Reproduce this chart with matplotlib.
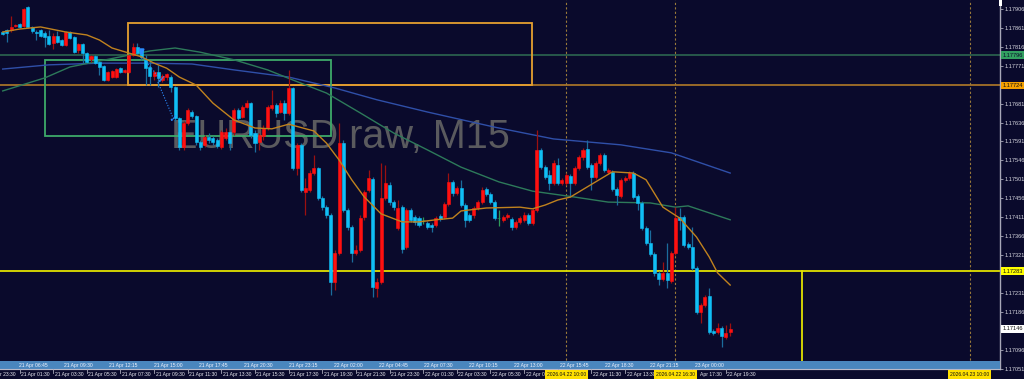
import matplotlib
matplotlib.use("Agg")
import matplotlib.pyplot as plt
from matplotlib.patches import Rectangle
from matplotlib.lines import Line2D
from matplotlib.transforms import blended_transform_factory, ScaledTranslation
import numpy as np

# ---------------- data (EURUSD raw, M15) ----------------
opens = [1.17851, 1.17856, 1.17856, 1.17865, 1.17870, 1.17865, 1.17910, 1.17863, 1.17851, 1.17856,
         1.17849, 1.17842, 1.17825, 1.17842, 1.17832, 1.17820, 1.17851, 1.17839, 1.17808, 1.17823,
         1.17801, 1.17787, 1.17794, 1.17780, 1.17770, 1.17737, 1.17744, 1.17744, 1.17766, 1.17756,
         1.17756, 1.17796, 1.17815, 1.17808, 1.17785, 1.17768, 1.17747, 1.17756, 1.17737, 1.17744,
         1.17744, 1.17720, 1.17647, 1.17578, 1.17635, 1.17661, 1.17652, 1.17590, 1.17583, 1.17602,
         1.17599, 1.17595, 1.17578, 1.17599, 1.17614, 1.17614, 1.17666, 1.17649, 1.17673, 1.17682,
         1.17611, 1.17590, 1.17604, 1.17623, 1.17671, 1.17678, 1.17661, 1.17682, 1.17659, 1.17718,
         1.17528, 1.17583, 1.17471, 1.17476, 1.17516, 1.17528, 1.17457, 1.17435, 1.17416, 1.17257,
         1.17326, 1.17587, 1.17428, 1.17388, 1.17326, 1.17333, 1.17412, 1.17476, 1.17502, 1.17243,
         1.17257, 1.17457, 1.17488, 1.17447, 1.17386, 1.17435, 1.17340, 1.17428, 1.17412, 1.17409,
         1.17405, 1.17397, 1.17393, 1.17393, 1.17414, 1.17412, 1.17443, 1.17495, 1.17469, 1.17481,
         1.17440, 1.17416, 1.17416, 1.17433, 1.17447, 1.17478, 1.17466, 1.17447, 1.17409, 1.17405,
         1.17412, 1.17407, 1.17388, 1.17400, 1.17405, 1.17416, 1.17397, 1.17428, 1.17571, 1.17530,
         1.17511, 1.17492, 1.17535, 1.17492, 1.17492, 1.17509, 1.17492, 1.17528, 1.17554, 1.17573,
         1.17535, 1.17507, 1.17540, 1.17559, 1.17519, 1.17519, 1.17478, 1.17462, 1.17500, 1.17504,
         1.17516, 1.17462, 1.17445, 1.17386, 1.17350, 1.17324, 1.17279, 1.17264, 1.17279, 1.17260,
         1.17326, 1.17412, 1.17412, 1.17348, 1.17340, 1.17291, 1.17186, 1.17203, 1.17224, 1.17141,
         1.17139, 1.17148, 1.17127, 1.17139]
highs = [1.17853, 1.17858, 1.17889, 1.17870, 1.17872, 1.17908, 1.17913, 1.17865, 1.17856, 1.17858,
         1.17853, 1.17856, 1.17849, 1.17853, 1.17834, 1.17853, 1.17853, 1.17842, 1.17825, 1.17825,
         1.17804, 1.17796, 1.17796, 1.17782, 1.17773, 1.17758, 1.17761, 1.17766, 1.17768, 1.17763,
         1.17796, 1.17825, 1.17825, 1.17811, 1.17796, 1.17785, 1.17761, 1.17773, 1.17751, 1.17754,
         1.17749, 1.17723, 1.17649, 1.17640, 1.17671, 1.17666, 1.17654, 1.17595, 1.17606, 1.17611,
         1.17604, 1.17599, 1.17618, 1.17623, 1.17618, 1.17671, 1.17671, 1.17678, 1.17690, 1.17685,
         1.17618, 1.17611, 1.17630, 1.17678, 1.17713, 1.17682, 1.17690, 1.17690, 1.17761, 1.17720,
         1.17587, 1.17587, 1.17504, 1.17523, 1.17559, 1.17530, 1.17462, 1.17440, 1.17421, 1.17333,
         1.17635, 1.17595, 1.17433, 1.17393, 1.17345, 1.17416, 1.17476, 1.17523, 1.17507, 1.17267,
         1.17540, 1.17535, 1.17495, 1.17452, 1.17452, 1.17440, 1.17433, 1.17433, 1.17416, 1.17414,
         1.17412, 1.17402, 1.17397, 1.17414, 1.17419, 1.17447, 1.17516, 1.17500, 1.17485, 1.17500,
         1.17445, 1.17421, 1.17438, 1.17452, 1.17483, 1.17483, 1.17471, 1.17452, 1.17428, 1.17416,
         1.17421, 1.17412, 1.17405, 1.17414, 1.17424, 1.17421, 1.17433, 1.17618, 1.17576, 1.17535,
         1.17523, 1.17547, 1.17552, 1.17504, 1.17516, 1.17514, 1.17533, 1.17559, 1.17576, 1.17595,
         1.17540, 1.17545, 1.17564, 1.17564, 1.17528, 1.17523, 1.17483, 1.17504, 1.17509, 1.17521,
         1.17521, 1.17466, 1.17450, 1.17390, 1.17381, 1.17329, 1.17283, 1.17305, 1.17350, 1.17331,
         1.17435, 1.17433, 1.17416, 1.17352, 1.17388, 1.17295, 1.17207, 1.17226, 1.17243, 1.17146,
         1.17160, 1.17153, 1.17155, 1.17160]
lows = [1.17844, 1.17827, 1.17851, 1.17863, 1.17861, 1.17863, 1.17861, 1.17849, 1.17832, 1.17839,
        1.17815, 1.17820, 1.17811, 1.17825, 1.17818, 1.17818, 1.17834, 1.17801, 1.17801, 1.17777,
        1.17777, 1.17780, 1.17775, 1.17749, 1.17735, 1.17735, 1.17742, 1.17742, 1.17754, 1.17754,
        1.17754, 1.17794, 1.17796, 1.17785, 1.17725, 1.17725, 1.17737, 1.17720, 1.17732, 1.17737,
        1.17709, 1.17640, 1.17571, 1.17571, 1.17630, 1.17647, 1.17583, 1.17571, 1.17578, 1.17587,
        1.17583, 1.17576, 1.17573, 1.17595, 1.17571, 1.17606, 1.17642, 1.17647, 1.17671, 1.17599,
        1.17566, 1.17571, 1.17595, 1.17618, 1.17666, 1.17649, 1.17659, 1.17642, 1.17654, 1.17523,
        1.17511, 1.17471, 1.17416, 1.17471, 1.17511, 1.17452, 1.17428, 1.17409, 1.17226, 1.17238,
        1.17321, 1.17424, 1.17381, 1.17305, 1.17321, 1.17329, 1.17405, 1.17471, 1.17222, 1.17222,
        1.17253, 1.17452, 1.17440, 1.17428, 1.17381, 1.17326, 1.17336, 1.17400, 1.17393, 1.17388,
        1.17395, 1.17383, 1.17376, 1.17388, 1.17402, 1.17407, 1.17438, 1.17462, 1.17464, 1.17435,
        1.17388, 1.17400, 1.17409, 1.17428, 1.17443, 1.17462, 1.17443, 1.17405, 1.17390, 1.17400,
        1.17407, 1.17381, 1.17383, 1.17395, 1.17400, 1.17393, 1.17393, 1.17424, 1.17526, 1.17502,
        1.17476, 1.17488, 1.17488, 1.17488, 1.17488, 1.17459, 1.17488, 1.17523, 1.17547, 1.17526,
        1.17476, 1.17502, 1.17535, 1.17519, 1.17514, 1.17473, 1.17440, 1.17457, 1.17495, 1.17500,
        1.17454, 1.17428, 1.17381, 1.17345, 1.17319, 1.17272, 1.17250, 1.17260, 1.17243, 1.17255,
        1.17321, 1.17381, 1.17340, 1.17336, 1.17286, 1.17181, 1.17160, 1.17198, 1.17134, 1.17132,
        1.17134, 1.17103, 1.17122, 1.17129]
closes = [1.17846, 1.17849, 1.17863, 1.17868, 1.17863, 1.17906, 1.17863, 1.17853, 1.17849, 1.17842,
          1.17839, 1.17823, 1.17842, 1.17827, 1.17820, 1.17851, 1.17837, 1.17804, 1.17823, 1.17801,
          1.17780, 1.17794, 1.17777, 1.17768, 1.17737, 1.17756, 1.17758, 1.17763, 1.17756, 1.17761,
          1.17796, 1.17815, 1.17801, 1.17792, 1.17766, 1.17747, 1.17756, 1.17742, 1.17747, 1.17751,
          1.17720, 1.17647, 1.17578, 1.17635, 1.17666, 1.17652, 1.17590, 1.17578, 1.17602, 1.17595,
          1.17590, 1.17580, 1.17614, 1.17614, 1.17587, 1.17666, 1.17647, 1.17673, 1.17682, 1.17606,
          1.17587, 1.17606, 1.17623, 1.17673, 1.17678, 1.17659, 1.17682, 1.17659, 1.17718, 1.17528,
          1.17583, 1.17476, 1.17481, 1.17516, 1.17528, 1.17457, 1.17435, 1.17416, 1.17257, 1.17326,
          1.17587, 1.17428, 1.17388, 1.17326, 1.17333, 1.17409, 1.17471, 1.17504, 1.17245, 1.17257,
          1.17457, 1.17492, 1.17447, 1.17435, 1.17433, 1.17336, 1.17428, 1.17405, 1.17400, 1.17393,
          1.17405, 1.17388, 1.17388, 1.17409, 1.17407, 1.17443, 1.17495, 1.17469, 1.17481, 1.17440,
          1.17405, 1.17405, 1.17433, 1.17447, 1.17476, 1.17466, 1.17447, 1.17409, 1.17409, 1.17412,
          1.17416, 1.17388, 1.17400, 1.17409, 1.17416, 1.17397, 1.17428, 1.17571, 1.17530, 1.17507,
          1.17492, 1.17540, 1.17492, 1.17500, 1.17511, 1.17492, 1.17528, 1.17554, 1.17571, 1.17530,
          1.17507, 1.17540, 1.17559, 1.17523, 1.17523, 1.17478, 1.17464, 1.17500, 1.17504, 1.17516,
          1.17459, 1.17445, 1.17386, 1.17350, 1.17324, 1.17279, 1.17264, 1.17279, 1.17262, 1.17326,
          1.17409, 1.17405, 1.17345, 1.17340, 1.17291, 1.17186, 1.17203, 1.17222, 1.17139, 1.17136,
          1.17148, 1.17129, 1.17136, 1.17146]

# moving averages: (bar index, price)
ma_fast_idx = [0, 4, 9, 15, 20, 23, 26, 30, 33, 36, 39, 42, 46, 50, 55, 60, 64, 68, 74, 77, 80, 83, 86,
               90, 95, 99, 103, 107, 109, 115, 123, 126, 129, 132, 135, 139, 145, 150, 153, 157, 161,
               165, 168, 170, 173]
ma_fast_val = [1.17851, 1.17858, 1.17863, 1.17851, 1.17844, 1.17832, 1.17813, 1.17801, 1.17792, 1.17777,
               1.17765, 1.17744, 1.17725, 1.17682, 1.17642, 1.17623, 1.17621, 1.17632, 1.17616, 1.17587,
               1.17547, 1.17500, 1.17459, 1.17419, 1.17400, 1.17400, 1.17405, 1.17409, 1.17426, 1.17433,
               1.17435, 1.17431, 1.17440, 1.17452, 1.17459, 1.17483, 1.17519, 1.17516, 1.17500, 1.17435,
               1.17409, 1.17364, 1.17317, 1.17279, 1.17250]
ma_mid_idx = [0, 10, 16, 30, 35, 41, 47, 55, 63, 69, 77, 85, 93, 101, 109, 118, 126, 136, 144, 154,
              160, 163, 173]
ma_mid_val = [1.17711, 1.17742, 1.17768, 1.17796, 1.17806, 1.17813, 1.17803, 1.17785, 1.17761, 1.17737,
              1.17706, 1.17659, 1.17611, 1.17571, 1.17530, 1.17495, 1.17473, 1.17459, 1.17447, 1.17445,
              1.17435, 1.17438, 1.17405]
ma_slow_idx = [0, 11, 23, 35, 45, 55, 68, 79, 89, 101, 117, 131, 147, 159, 173]
ma_slow_val = [1.17763, 1.17773, 1.17777, 1.17777, 1.17775, 1.17761, 1.17744, 1.17718, 1.17690, 1.17661,
               1.17625, 1.17597, 1.17583, 1.17564, 1.17516]

# horizontal levels
level_green = 1.17796
level_orange = 1.17724
level_yellow = 1.17283
last_price = 1.17146

# zones (bar index range, price range)
zone_orange = (30, 126, 1.17724, 1.17872)
zone_green = (10, 78, 1.17604, 1.17785)

# vertical markers (bar index) and labels
vline_idx = [134, 160, 230]
vline_labels = ["2026.04.22 10:00", "2026.04.22 16:30", "2026.04.23 10:00"]
yellow_vline_idx = 190

# price axis ticks (labels hidden under the coloured tags are left blank)
price_ticks = [1.17906, 1.17861, 1.17816, 1.17771, 1.17726, 1.17681, 1.17636, 1.17591, 1.17546, 1.17501,
               1.17456, 1.17411, 1.17366, 1.17321, 1.17276, 1.17231, 1.17186, 1.17141, 1.17096, 1.17051]
price_hidden = [1.17726, 1.17276, 1.17141]

# time axis (lower row): bar index and label ("" = covered by a marker tag)
time_tick_idx = [-4, 4, 12, 20, 28, 36, 44, 52, 60, 68, 76, 84, 92, 100, 108, 116, 124, 132, 140, 148,
                 156, 164, 172]
time_tick_labels = ["20 Apr 23:30", "21 Apr 01:30", "21 Apr 03:30", "21 Apr 05:30", "21 Apr 07:30",
                    "21 Apr 09:30", "21 Apr 11:30", "21 Apr 13:30", "21 Apr 15:30", "21 Apr 17:30",
                    "21 Apr 19:30", "21 Apr 21:30", "21 Apr 23:30", "22 Apr 01:30", "22 Apr 03:30",
                    "22 Apr 05:30", "22 Apr 07", "", "22 Apr 11:30", "22 Apr 13:30",
                    "", "Apr 17:30", "22 Apr 19:30"]
# upper band labels (other window's time scale)
band_labels = ["21 Apr 06:45", "21 Apr 09:30", "21 Apr 12:15", "21 Apr 15:00", "21 Apr 17:45",
               "21 Apr 20:30", "21 Apr 23:15", "22 Apr 02:00", "22 Apr 04:45", "22 Apr 07:30",
               "22 Apr 10:15", "22 Apr 13:00", "22 Apr 15:45", "22 Apr 18:30", "22 Apr 21:15",
               "23 Apr 00:00"]

# trade marks
trade_arrow = (33, 1.17800)
trade_checks = [(37.6, 1.17737), (40.6, 1.17645)]

# ---------------- styling ----------------
BG = "#0a0a2c"
W, H = 1024, 379
plt.rcParams["font.family"] = ["Liberation Sans", "DejaVu Sans"]

fig = plt.figure(figsize=(W / 100, H / 100), dpi=100)
fig.patch.set_facecolor(BG)

ax = fig.add_axes([0, 10 / H, 1000 / W, 369 / H])
ax.set_facecolor(BG)
ax.set_xlim(-0.642, 237.17)
ax.set_ylim(1.170506, 1.17927)

n = len(opens)
idx = np.arange(n)
o = np.array(opens); h = np.array(highs); l = np.array(lows); c = np.array(closes)
body_col = np.where(c > o, "#ff1010", np.where(c < o, "#10bff5", "#2e9a5a"))
wick_col = np.where(c > o, "#9c1010", np.where(c < o, "#1b6c9c", "#2e9a5a"))

# watermark
ax.text(0.171, 0.629, "EURUSD raw, M15", transform=ax.transAxes, fontsize=28.5,
        color="#5a5a5e", ha="left", va="center", zorder=0.5)

# levels
ax.axhline(level_green, color="#2f6e52", lw=1.1, zorder=1)
ax.axhline(level_orange, color="#c08428", lw=1.1, zorder=1)
ax.axhline(level_yellow, color="#e2e200", lw=1.3, zorder=2)
ax.plot([yellow_vline_idx, yellow_vline_idx], [level_yellow, 1.1700], color="#e2e200", lw=1.3, zorder=2)

for vi in vline_idx:
    ax.axvline(vi, color="#9a7a3a", lw=0.8, ls=(0, (2, 2)), zorder=1)

# zones
ax.add_patch(Rectangle((zone_orange[0] - 0.2, zone_orange[2]), zone_orange[1] - zone_orange[0],
                       zone_orange[3] - zone_orange[2], fill=False, edgecolor="#e6a030", lw=1.3, zorder=2))
ax.add_patch(Rectangle((zone_green[0], zone_green[2]), zone_green[1] - zone_green[0],
                       zone_green[3] - zone_green[2], fill=False, edgecolor="#3daa6a", lw=1.3, zorder=2))

# moving averages
ax.plot(ma_slow_idx, ma_slow_val, color="#2f4fa8", lw=1.0, zorder=3)
ax.plot(ma_mid_idx, ma_mid_val, color="#2d7a5a", lw=1.0, zorder=3)

# candles
ax.vlines(idx, l, h, colors=wick_col, lw=0.9, zorder=4)
bottoms = np.minimum(o, c)
heights = np.abs(c - o)
ax.bar(idx, heights, bottom=bottoms, width=0.72, color=body_col, edgecolor=body_col, lw=0.4, zorder=5)

ax.plot(ma_fast_idx, ma_fast_val, color="#c0821e", lw=1.0, zorder=6)

# trade marks
ax.annotate("", xy=(trade_arrow[0], trade_arrow[1] - 0.00012), xytext=(trade_arrow[0], trade_arrow[1] + 0.00012),
            arrowprops=dict(arrowstyle="-|>", color="#2a8cff", lw=1.6, mutation_scale=7), zorder=7)
ax.plot([trade_arrow[0] + 0.3, trade_checks[0][0]], [trade_arrow[1] - 0.00010, trade_checks[0][1]],
        color="#2a8cff", lw=0.8, ls=(0, (1, 1.5)), zorder=7)
ax.plot([trade_checks[0][0] - 0.7, trade_checks[1][0]], [trade_checks[0][1] - 0.00005, trade_checks[1][1]],
        color="#2a8cff", lw=0.8, ls=(0, (1, 1.5)), zorder=7)
for cx, cy in trade_checks:
    ax.text(cx, cy, "\u2713", color="#2a8cff", fontsize=8, ha="center", va="center",
            family="DejaVu Sans", fontweight="bold", zorder=7)

# axes styling
for s in ["top", "left"]:
    ax.spines[s].set_visible(False)
ax.spines["right"].set_color("#a8a8b8")
ax.spines["bottom"].set_color("#a8a8b8")
ax.spines["right"].set_linewidth(1.0)
ax.yaxis.tick_right()
ax.set_yticks(price_ticks)
ax.set_yticklabels(["" if p in price_hidden else f"{p:.5f}" for p in price_ticks])
ax.tick_params(axis="y", colors="#a8a8b8", labelcolor="#d8d8e0", labelsize=4.1, length=2, pad=1.5, width=0.6)
ax.set_xticks([])

# right side colored price tags
tag_tr = blended_transform_factory(ax.transAxes, ax.transData)
for val, bg, fg in [(level_green, "#32a060", "#0a0a2c"), (level_orange, "#f5a000", "#101010"),
                    (level_yellow, "#ffff00", "#101010"), (last_price, "#ffffff", "#101010")]:
    ax.text(1.0025, val, f"{val:.5f}", transform=tag_tr, fontsize=4.1, color=fg, ha="left", va="center",
            clip_on=False, zorder=10,
            bbox=dict(boxstyle="square,pad=0.25", facecolor=bg, edgecolor="none"))

# band (other window time scale)
band = fig.add_axes([0, 10 / H, 1000 / W, 8 / H])
band.set_facecolor("#4a86be")
band.set_xlim(0, 1000)
band.set_ylim(0, 1)
band.set_xticks([]); band.set_yticks([])
for s in ["top", "left", "right"]:
    band.spines[s].set_visible(False)
band.spines["bottom"].set_color("#b8b8c8")
for k, lab in enumerate(band_labels):
    band.text(33 + 45.07 * k, 0.5, lab, fontsize=3.6, color="#f0f4ff", ha="center", va="center")

# lower time row
row_tr = blended_transform_factory(ax.transData, fig.transFigure)
shift = ScaledTranslation(1.5 / 100, 0, fig.dpi_scale_trans)
for ti, lab in zip(time_tick_idx, time_tick_labels):
    fig.add_artist(Line2D([ti, ti], [10 / H, 6.5 / H], transform=row_tr, color="#a8a8b8", lw=0.6))
    if not lab:
        continue
    if lab.startswith("Apr"):
        tshift = ScaledTranslation(7.5 / 100, 0, fig.dpi_scale_trans)
        fig.text(ti, 4.6 / H, lab, transform=row_tr + tshift, fontsize=3.6, color="#e8e8f0",
                 ha="left", va="center")
    else:
        fig.text(ti, 4.6 / H, lab, transform=row_tr + shift, fontsize=3.6, color="#e8e8f0",
                 ha="left", va="center")
for vi, lab in zip(vline_idx, vline_labels):
    fig.text(vi, 4.6 / H, lab, transform=row_tr, fontsize=3.6, color="#101010", ha="center", va="center",
             zorder=10, bbox=dict(boxstyle="square,pad=0.35", facecolor="#ffe000", edgecolor="none"))

# small scroll marker at top of price scale
fig.add_artist(Rectangle((999 / W, (H - 6) / H), 3 / W, 6 / H, transform=fig.transFigure,
                         facecolor="#ffffff", edgecolor="none"))

fig.savefig("out.png", dpi=100, facecolor=BG)
